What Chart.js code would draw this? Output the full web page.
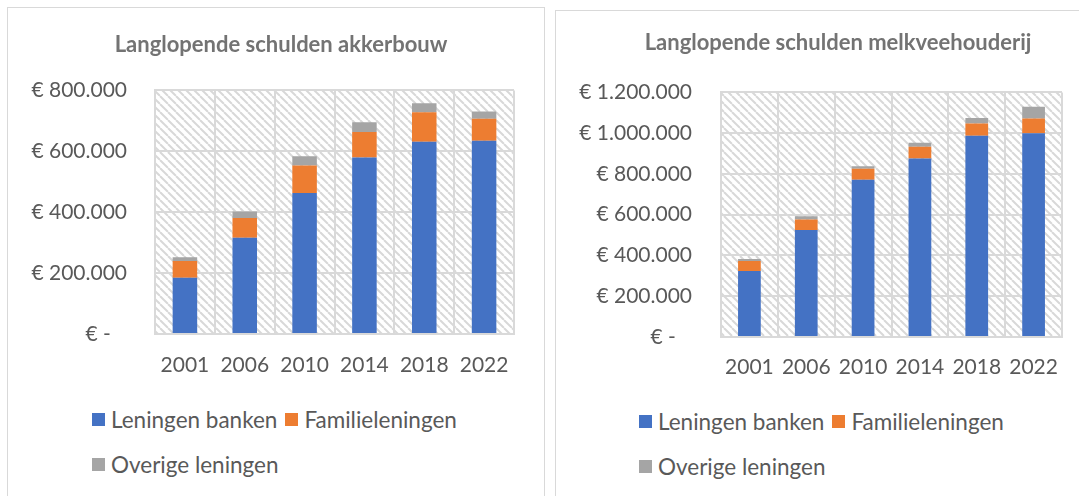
<!DOCTYPE html>
<html>
<head>
<meta charset="utf-8">
<script src="https://cdn.jsdelivr.net/npm/chart.js@4/dist/chart.umd.min.js"></script>
<style>
body { margin: 0; width: 1079px; height: 496px; overflow: hidden; background: #fff; position: relative; font-family: Lato, sans-serif; }
.box { position: absolute; border: 1px solid #d9d9d9; }
canvas { position: absolute; }
.legend { position: absolute; display: flex; flex-wrap: wrap; width: 420px; row-gap: 15px; column-gap: 8px; }
.legend .item { display: flex; align-items: center; height: 30px; font-size: 22.5px; color: #595959; white-space: nowrap; }
.legend .swatch { width: 13px; height: 13px; margin-right: 6px; }
</style>
</head>
<body>
<div class="box" style="left:7px; top:7px; width:536px; height:600px;"></div>
<div class="box" style="left:555px; top:10px; width:600px; height:600px;"></div>

<canvas id="akker" style="left:0px; top:0px;" width="545" height="385"></canvas>
<canvas id="melk" style="left:548px; top:0px;" width="531" height="385"></canvas>
<div id="legend-akker" class="legend" style="left:92px; top:404px;"></div>
<div id="legend-melk" class="legend" style="left:639px; top:406px;"></div>

<script>
// data
var years = ['2001', '2006', '2010', '2014', '2018', '2022']
var seriesNames = ['Leningen banken', 'Familieleningen', 'Overige leningen']

var akkerBanken = [185000, 316000, 463000, 580000, 631000, 635000]
var akkerFamilie = [55000, 65000, 90000, 83000, 97000, 72000]
var akkerOverig = [12000, 21000, 31000, 32000, 30000, 24000]

var melkBanken = [324000, 525000, 771000, 876000, 987000, 999000]
var melkFamilie = [49000, 51000, 54000, 57000, 61000, 73000]
var melkOverig = [10000, 16000, 13000, 20000, 27000, 57000]

var akkerTicks = [0, 200000, 400000, 600000, 800000]
var melkTicks = [0, 200000, 400000, 600000, 800000, 1000000, 1200000]

var colors = ['#4472C4', '#ED7D31', '#A5A5A5']
var textColor = '#595959'
var gridColor = '#d9d9d9'

function euro(v) {
    if (v === 0) return '€ -\u00a0\u00a0\u00a0'
    return '€ ' + String(v).replace(/\B(?=(\d{3})+(?!\d))/g, '.')
}

// light diagonal hatch like the Excel plot area fill
function hatch() {
    var c = document.createElement('canvas')
    c.width = 8
    c.height = 8
    var g = c.getContext('2d')
    g.fillStyle = '#fff'
    g.fillRect(0, 0, 8, 8)
    g.strokeStyle = '#d8d8d8'
    g.lineWidth = 2
    for (var k = -8; k <= 8; k += 8) {
        g.beginPath()
        g.moveTo(k, 0)
        g.lineTo(k + 8, 8)
        g.stroke()
    }
    return g.createPattern(c, 'repeat')
}

var plotBackground = {
    id: 'plotBackground',
    beforeDraw: function(chart) {
        var a = chart.chartArea
        var ctx = chart.ctx
        ctx.save()
        ctx.fillStyle = hatch()
        ctx.fillRect(a.left, a.top, a.right - a.left, a.bottom - a.top)
        ctx.restore()
    }
}

// Excel centres the title a bit right of the canvas middle
var titleShift = {
    id: 'titleShift',
    afterLayout: function(chart, args, opts) {
        if (!chart.titleBlock) return
        chart.titleBlock.left += opts.dx
        chart.titleBlock.right += opts.dx
    }
}

// legend as html so the rows sit like in Excel
var htmlLegend = {
    id: 'htmlLegend',
    afterUpdate: function(chart, args, opts) {
        var wrapper = document.getElementById(opts.containerID)
        wrapper.innerHTML = ''
        var items = chart.options.plugins.legend.labels.generateLabels(chart)
        items.forEach(function(item) {
            var el = document.createElement('div')
            el.className = 'item'
            el.innerHTML = `<span class="swatch" style="background:${item.fillStyle}"></span>${item.text}`
            wrapper.appendChild(el)
        })
    }
}

function makeChart(id, title, banken, familie, overig, ticks, geo) {
    var ctx = document.getElementById(id).getContext('2d')
    return new Chart(ctx, {
        type: 'bar',
        data: {
            labels: years,
            datasets: [
                { label: seriesNames[0], data: banken, backgroundColor: colors[0] },
                { label: seriesNames[1], data: familie, backgroundColor: colors[1] },
                { label: seriesNames[2], data: overig, backgroundColor: colors[2] }
            ]
        },
        options: {
            responsive: false,
            animation: false,
            devicePixelRatio: 1,
            layout: { padding: { left: 0, right: geo.padRight, top: 0, bottom: 0 } },
            datasets: { bar: { barPercentage: geo.bar, categoryPercentage: 1 } },
            plugins: {
                legend: { display: false },
                tooltip: { enabled: false },
                htmlLegend: { containerID: geo.legend },
                titleShift: { dx: geo.titleDx },
                title: {
                    display: true,
                    text: title,
                    color: '#737373',
                    font: { family: 'Lato', size: 22, weight: 'bold', lineHeight: 1.2 },
                    padding: { top: geo.titleTop, bottom: geo.titleBottom }
                }
            },
            scales: {
                x: {
                    stacked: true,
                    grid: { color: gridColor, lineWidth: 2, drawTicks: false },
                    border: { color: gridColor, width: 2 },
                    ticks: { color: textColor, font: { family: 'Lato', size: 21 }, padding: geo.xPad, maxRotation: 0, autoSkip: false },
                    afterFit: function(s) { s.height = geo.xHeight }
                },
                y: {
                    stacked: true,
                    min: 0,
                    max: ticks[ticks.length - 1],
                    grid: { color: gridColor, lineWidth: 2, drawTicks: false },
                    border: { color: gridColor, width: 2 },
                    afterBuildTicks: function(s) { s.ticks = ticks.map(function(v) { return { value: v } }) },
                    ticks: { color: textColor, font: { family: 'Lato', size: 21 }, padding: geo.yPad, callback: euro },
                    afterFit: function(s) { s.width = geo.yWidth }
                }
            }
        },
        plugins: [plotBackground, titleShift, htmlLegend]
    })
}

makeChart('akker', 'Langlopende schulden akkerbouw', akkerBanken, akkerFamilie, akkerOverig, akkerTicks, {
    padRight: 31, yWidth: 155, yPad: 28, xHeight: 51, xPad: 19,
    titleTop: 32, titleBottom: 32, titleDx: 24, bar: 0.41, legend: 'legend-akker'
})

makeChart('melk', 'Langlopende schulden melkveehouderij', melkBanken, melkFamilie, melkOverig, melkTicks, {
    padRight: 17, yWidth: 173, yPad: 29, xHeight: 48, xPad: 18,
    titleTop: 30, titleBottom: 36, titleDx: 33, bar: 0.4, legend: 'legend-melk'
})
</script>
</body>
</html>
